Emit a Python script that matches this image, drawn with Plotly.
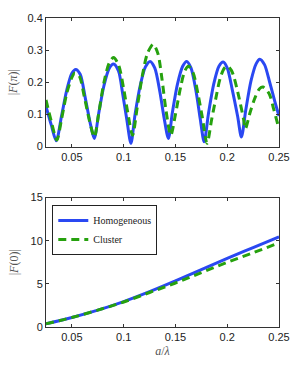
import plotly.graph_objects as go
from plotly.subplots import make_subplots

# ---- top panel data: |F(pi)| ----
x_hom_pi = [0.025, 0.030, 0.0349, 0.040, 0.045, 0.050, 0.0537, 0.058, 0.063, 0.068, 0.0716,
            0.076, 0.081, 0.086, 0.0902, 0.095, 0.099, 0.103, 0.107,
            0.111, 0.116, 0.121, 0.1255, 0.130, 0.135, 0.139, 0.1432,
            0.147, 0.152, 0.157, 0.1608, 0.165, 0.170, 0.174, 0.1777,
            0.182, 0.187, 0.192, 0.1961, 0.200, 0.205, 0.210, 0.2137,
            0.218, 0.223, 0.228, 0.2314, 0.236, 0.241, 0.246, 0.250]
y_hom_pi = [0.125, 0.068, 0.018, 0.095, 0.175, 0.228, 0.240, 0.225, 0.150, 0.068, 0.025,
            0.105, 0.190, 0.243, 0.257, 0.235, 0.165, 0.085, 0.010,
            0.100, 0.190, 0.248, 0.265, 0.245, 0.170, 0.090, 0.025,
            0.105, 0.195, 0.250, 0.265, 0.245, 0.170, 0.085, 0.015,
            0.105, 0.195, 0.250, 0.263, 0.245, 0.175, 0.095, 0.030,
            0.115, 0.205, 0.258, 0.272, 0.255, 0.200, 0.140, 0.095]

x_clu_pi = [0.025, 0.030, 0.0355, 0.040, 0.045, 0.050, 0.0525, 0.057, 0.062, 0.067, 0.0717,
            0.076, 0.081, 0.086, 0.0902, 0.095, 0.100, 0.104, 0.1086,
            0.113, 0.118, 0.123, 0.1285, 0.133, 0.137, 0.141, 0.1455,
            0.150, 0.155, 0.159, 0.1625, 0.167, 0.172, 0.176, 0.1805,
            0.185, 0.189, 0.193, 0.197, 0.2004, 0.204, 0.2066, 0.2112, 0.2158, 0.2175,
            0.222, 0.2266, 0.2312, 0.2345, 0.2404, 0.245, 0.250]
y_clu_pi = [0.145, 0.080, 0.020, 0.085, 0.165, 0.215, 0.228, 0.220, 0.155, 0.080, 0.030,
            0.105, 0.200, 0.260, 0.277, 0.255, 0.180, 0.105, 0.035,
            0.120, 0.220, 0.290, 0.318, 0.290, 0.210, 0.110, 0.035,
            0.100, 0.185, 0.235, 0.250, 0.230, 0.160, 0.090, 0.010,
            0.085, 0.150, 0.210, 0.243, 0.250, 0.237, 0.215, 0.155, 0.085, 0.055,
            0.105, 0.150, 0.180, 0.185, 0.165, 0.115, 0.055]

# ---- bottom panel data: |F(0)| ----
x_f0 = [0.025, 0.05, 0.075, 0.10, 0.125, 0.15, 0.175, 0.20, 0.225, 0.25]
y_hom_0 = [0.37, 1.10, 1.95, 2.95, 4.10, 5.35, 6.65, 7.95, 9.20, 10.45]
y_clu_0 = [0.37, 1.10, 1.95, 2.90, 4.00, 5.10, 6.30, 7.50, 8.60, 9.75]

x_ticks = [0.05, 0.1, 0.15, 0.2, 0.25]
x_tick_labels = ["0.05", "0.1", "0.15", "0.2", "0.25"]
y_top_ticks = [0, 0.1, 0.2, 0.3, 0.4]
y_bot_ticks = [0, 5, 10, 15]

BLUE = "#2a48f2"
GREEN = "#26a10e"

fig = make_subplots(rows=2, cols=1, vertical_spacing=0.165)

fig.add_trace(go.Scatter(x=x_hom_pi, y=y_hom_pi, mode="lines", name="Homogeneous",
                         line=dict(color=BLUE, width=3, shape="spline", smoothing=0.8),
                         showlegend=False), row=1, col=1)
fig.add_trace(go.Scatter(x=x_clu_pi, y=y_clu_pi, mode="lines", name="Cluster",
                         line=dict(color=GREEN, width=3, dash="8px,5px", shape="spline", smoothing=0.8),
                         showlegend=False), row=1, col=1)
fig.add_trace(go.Scatter(x=x_f0, y=y_hom_0, mode="lines", name="Homogeneous",
                         line=dict(color=BLUE, width=3, shape="spline")), row=2, col=1)
fig.add_trace(go.Scatter(x=x_f0, y=y_clu_0, mode="lines", name="Cluster",
                         line=dict(color=GREEN, width=3, dash="8px,5px", shape="spline")), row=2, col=1)

axis_common = dict(showline=True, linecolor="#333", linewidth=1, mirror="allticks",
                   ticks="inside", ticklen=3, tickcolor="#333", showgrid=False, zeroline=False,
                   tickfont=dict(family="Liberation Sans, Arial", size=11, color="#222"))

fig.update_xaxes(range=[0.025, 0.25], tickvals=x_ticks, ticktext=x_tick_labels, **axis_common)
fig.update_yaxes(**axis_common)
fig.update_yaxes(range=[0, 0.4], tickvals=y_top_ticks, ticktext=["0", "0.1", "0.2", "0.3", "0.4"],
                 domain=[0.584, 1.0], row=1, col=1,
                 title=dict(text="|<i>F</i>(<i>π</i>)|", standoff=7,
                            font=dict(family="Liberation Serif, serif", size=12, color="#555")))
fig.update_yaxes(range=[0, 15], tickvals=y_bot_ticks, domain=[0.0, 0.419], row=2, col=1,
                 title=dict(text="|<i>F</i>(0)|", standoff=9,
                            font=dict(family="Liberation Serif, serif", size=12, color="#555")))
fig.update_xaxes(row=2, col=1,
                 title=dict(text="<i>a</i>/<i>λ</i>", standoff=4,
                            font=dict(family="Liberation Serif, serif", size=12, color="#555")))

fig.update_layout(
    width=302, height=368,
    margin=dict(l=41, r=17, t=12, b=36),
    paper_bgcolor="white", plot_bgcolor="white",
    legend=dict(x=0.027, y=0.395, xanchor="left", yanchor="top",
                bordercolor="#222", borderwidth=1, bgcolor="white",
                font=dict(family="Liberation Serif, serif", size=10, color="#222"),
                tracegroupgap=0, itemwidth=30),
)

fig.write_html("out.html", config={"displayModeBar": False},
               post_script="document.body.style.margin='0';")
